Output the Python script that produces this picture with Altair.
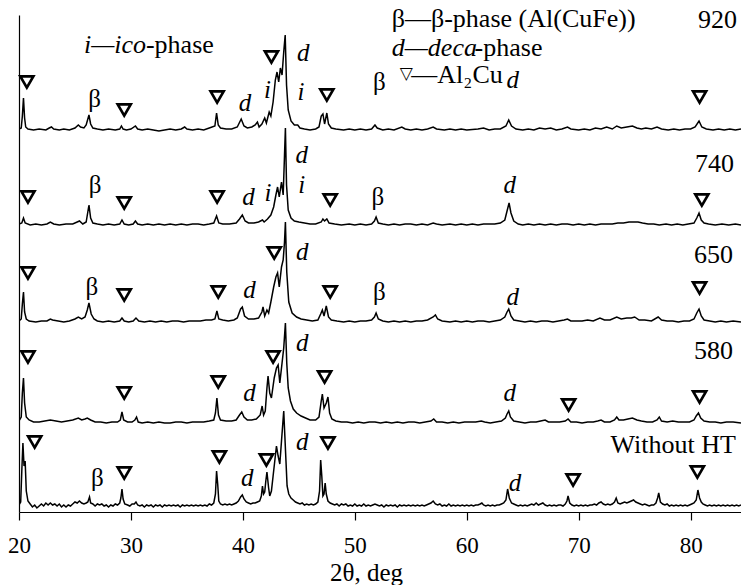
import altair as alt
import pandas as pd

# ---------------- data ----------------
series_names = ["920", "740", "650", "580", "Without HT"]
# vertical offset of each pattern (stacking)
baseline_offsets = [382, 287, 190, 89, 6]

trace_920 = [(20.0,1),(20.2,2),(20.3,14),(20.4,32),(20.5,12),(20.6,3),(20.8,1),(21.3,0),(21.8,1),(22.4,0),(22.7,2),(22.9,3),(23.1,1),(23.6,0),(24.0,1),(24.5,0),(25.0,2),(25.3,5),(25.5,3),(25.8,2),(26.0,5),(26.25,15),(26.4,6),(26.6,2),(27.0,1),(27.5,0),(28.0,1),(28.6,0),(29.0,1),(29.15,4),(29.3,1),(29.6,0),(30.0,1),(30.4,4),(30.6,1),(31.0,0),(31.5,1),(32.0,0),(32.5,-1),(33.0,0),(33.5,1),(34.0,0),(34.5,1),(34.8,3),(35.0,1),(35.5,0),(36.0,1),(36.5,0),(37.0,2),(37.5,4),(37.65,17),(37.8,5),(38.0,2),(38.5,1),(39.0,1),(39.5,3),(39.85,11),(40.1,4),(40.4,2),(40.8,3),(41.1,5),(41.3,8),(41.45,3),(41.7,6),(41.95,12),(42.1,7),(42.35,18),(42.5,14),(42.7,28),(42.9,50),(43.05,58),(43.2,48),(43.35,62),(43.5,55),(43.65,78),(43.78,95),(43.9,45),(44.05,20),(44.3,9),(44.6,5),(44.9,5),(45.1,2),(45.5,1),(46.0,0),(46.5,1),(46.8,3),(47.0,14),(47.15,16),(47.3,6),(47.5,17),(47.65,6),(47.9,2),(48.3,1),(49.0,0),(49.5,1),(50.0,0),(50.5,1),(51.0,0),(51.5,1),(51.8,5),(52.0,2),(52.5,0),(53.0,1),(53.5,0),(54.2,3),(54.5,1),(55.0,0),(55.5,1),(56.0,0),(56.5,1),(57.0,3),(57.3,1),(58.0,0),(58.5,1),(59.0,0),(59.5,1),(60.0,0),(61.0,1),(61.5,2),(62.0,0),(62.5,1),(63.0,1),(63.5,4),(63.75,10),(64.0,4),(64.4,1),(65.0,0),(65.5,1),(66.0,0),(66.5,2),(67.0,1),(67.5,2),(68.0,0),(68.5,1),(69.0,3),(69.3,1),(70.0,0),(70.5,1),(71.0,0),(71.5,2),(72.0,1),(72.5,3),(73.0,1),(73.4,4),(73.8,2),(74.3,3),(74.8,4),(75.2,2),(75.6,1),(76.0,2),(76.5,1),(77.0,3),(77.4,1),(78.0,0),(78.5,1),(79.0,0),(79.5,1),(80.0,1),(80.4,3),(80.75,9),(81.0,3),(81.4,1),(82.0,0),(82.5,1),(83.0,0),(83.5,1),(84.0,0),(84.5,1)]

trace_740 = [(20.0,1),(20.25,2),(20.4,7),(20.55,2),(21.0,0),(21.5,1),(22.0,0),(22.5,1),(22.8,3),(23.1,1),(23.6,0),(24.2,1),(24.8,1),(25.2,3),(25.4,4),(25.7,1),(26.0,3),(26.25,20),(26.4,7),(26.6,2),(27.0,1),(27.5,0),(28.0,1),(28.5,0),(29.0,1),(29.2,5),(29.4,1),(29.8,0),(30.2,1),(30.4,4),(30.6,1),(31.0,0),(31.5,1),(32.0,0),(32.5,1),(33.0,0),(33.5,1),(34.0,0),(34.5,1),(35.0,0),(35.5,1),(36.0,1),(36.5,0),(37.0,1),(37.4,2),(37.65,9),(37.85,2),(38.2,1),(38.8,1),(39.4,2),(39.7,6),(39.95,10),(40.2,4),(40.5,2),(41.0,2),(41.4,3),(41.75,5),(41.9,3),(42.2,6),(42.5,10),(42.75,18),(42.95,30),(43.1,38),(43.25,28),(43.45,43),(43.6,30),(43.72,70),(43.8,97),(43.9,40),(44.05,15),(44.3,7),(44.6,4),(45.0,3),(45.5,2),(46.0,1),(46.5,1),(47.0,3),(47.15,6),(47.3,4),(47.5,6),(47.7,2),(48.2,1),(48.8,0),(49.5,1),(50.0,0),(50.5,1),(51.0,0),(51.5,1),(51.75,4),(51.9,8),(52.1,2),(52.5,1),(53.0,0),(53.5,1),(54.0,0),(54.5,1),(55.0,1),(55.5,0),(56.0,1),(56.5,0),(57.0,2),(57.3,1),(57.8,0),(58.5,1),(59.0,0),(59.5,1),(60.0,0),(60.5,1),(61.0,0),(61.5,1),(62.0,1),(62.5,1),(63.0,2),(63.4,5),(63.6,14),(63.78,22),(63.95,12),(64.2,4),(64.6,1),(65.0,0),(65.5,1),(66.0,0),(66.5,1),(67.0,0),(67.5,1),(68.0,0),(68.5,1),(69.0,1),(69.5,0),(70.0,1),(70.5,0),(71.0,1),(71.5,0),(72.0,1),(72.5,1),(73.0,1),(73.5,2),(74.0,2),(74.5,3),(75.0,3),(75.3,3),(75.7,2),(76.2,1),(76.7,1),(77.2,0),(77.8,1),(78.3,0),(78.8,1),(79.3,0),(79.8,1),(80.3,2),(80.55,7),(80.75,12),(80.95,5),(81.2,2),(81.6,1),(82.2,0),(82.8,1),(83.4,0),(84.0,1),(84.5,0)]

trace_650 = [(20.0,1),(20.2,3),(20.3,18),(20.4,30),(20.5,10),(20.65,3),(20.9,1),(21.5,0),(22.0,1),(22.5,1),(22.8,3),(23.0,2),(23.5,1),(24.0,0),(24.5,1),(25.0,3),(25.3,5),(25.6,3),(25.9,5),(26.1,12),(26.25,19),(26.45,8),(26.7,3),(27.0,1),(27.5,0),(28.0,1),(28.5,0),(29.0,1),(29.2,4),(29.4,1),(29.8,0),(30.2,1),(30.45,4),(30.7,1),(31.2,0),(31.7,1),(32.2,0),(32.7,1),(33.2,0),(33.7,1),(34.2,1),(34.7,0),(35.2,1),(35.7,1),(36.2,1),(36.7,2),(37.2,2),(37.5,3),(37.68,11),(37.85,3),(38.2,2),(38.7,1),(39.2,2),(39.5,4),(39.8,13),(39.95,15),(40.15,6),(40.5,3),(41.0,3),(41.4,4),(41.7,10),(41.8,15),(41.95,6),(42.15,12),(42.3,9),(42.5,20),(42.75,35),(42.95,45),(43.1,49),(43.25,35),(43.45,55),(43.6,62),(43.72,80),(43.8,100),(43.92,50),(44.1,20),(44.4,9),(44.8,5),(45.2,3),(45.7,2),(46.2,1),(46.7,2),(46.95,8),(47.1,12),(47.25,6),(47.45,16),(47.65,5),(47.9,2),(48.4,1),(49.0,0),(49.5,1),(50.0,0),(50.5,1),(51.0,1),(51.5,2),(51.75,5),(51.9,9),(52.1,3),(52.5,1),(53.0,0),(53.5,1),(54.0,0),(54.5,1),(55.0,0),(55.5,1),(56.0,1),(56.5,2),(57.0,5),(57.2,7),(57.4,3),(57.8,1),(58.5,0),(59.0,1),(59.5,0),(60.0,1),(60.5,0),(61.0,1),(61.5,1),(62.0,0),(62.5,1),(63.0,2),(63.4,5),(63.6,10),(63.75,13),(63.95,6),(64.2,2),(64.7,1),(65.2,0),(65.7,1),(66.2,0),(66.7,1),(67.2,1),(67.7,0),(68.2,1),(68.7,2),(69.0,3),(69.3,1),(69.8,1),(70.3,1),(70.8,2),(71.3,1),(71.9,4),(72.3,2),(72.8,2),(73.4,5),(73.8,3),(74.3,4),(74.7,4),(75.0,5),(75.4,2),(75.9,2),(76.5,1),(77.1,5),(77.4,2),(77.9,1),(78.4,1),(78.9,0),(79.4,1),(79.9,1),(80.3,3),(80.55,9),(80.75,13),(80.95,6),(81.2,2),(81.7,1),(82.2,0),(82.7,1),(83.2,0),(83.8,1),(84.5,0)]

trace_580 = [(20.0,2),(20.2,6),(20.3,30),(20.4,45),(20.5,20),(20.65,6),(20.9,3),(21.3,1),(21.8,1),(22.3,2),(22.8,3),(23.3,2),(23.8,1),(24.3,2),(24.8,3),(25.3,5),(25.6,3),(25.9,4),(26.1,5),(26.4,3),(26.8,1),(27.3,1),(27.8,0),(28.3,1),(28.8,1),(29.05,3),(29.2,11),(29.35,3),(29.7,1),(30.1,1),(30.35,3),(30.5,6),(30.65,1),(31.0,0),(31.5,1),(32.0,0),(32.5,1),(33.0,0),(33.5,0),(34.0,1),(34.5,1),(35.0,0),(35.5,1),(36.0,1),(36.5,1),(37.0,2),(37.4,3),(37.55,10),(37.68,25),(37.82,8),(38.0,3),(38.5,2),(39.0,2),(39.4,3),(39.7,8),(39.9,11),(40.1,6),(40.4,3),(40.8,3),(41.2,4),(41.55,8),(41.72,17),(41.85,8),(42.0,12),(42.15,35),(42.25,47),(42.4,30),(42.55,25),(42.8,45),(43.0,55),(43.15,58),(43.3,40),(43.5,60),(43.65,75),(43.8,100),(43.92,60),(44.05,35),(44.25,22),(44.5,14),(44.8,10),(45.2,7),(45.6,5),(46.0,3),(46.5,3),(46.8,6),(47.0,22),(47.1,29),(47.25,15),(47.45,20),(47.6,26),(47.75,10),(47.95,4),(48.3,2),(48.8,1),(49.3,1),(49.8,0),(50.3,1),(50.8,0),(51.3,1),(51.8,1),(52.3,0),(52.8,1),(53.3,0),(53.8,1),(54.3,0),(54.8,1),(55.3,1),(55.8,0),(56.3,1),(56.8,2),(57.05,4),(57.3,1),(57.8,1),(58.3,0),(58.8,1),(59.3,0),(59.8,1),(60.3,1),(60.8,1),(61.3,2),(61.6,1),(62.1,0),(62.6,1),(63.1,2),(63.45,5),(63.6,9),(63.75,12),(63.9,6),(64.2,2),(64.7,1),(65.2,0),(65.7,1),(66.2,1),(66.6,2),(67.0,3),(67.3,1),(67.8,1),(68.3,1),(68.8,2),(69.05,4),(69.3,1),(69.8,1),(70.3,0),(70.8,1),(71.3,1),(71.7,2),(72.0,3),(72.3,1),(72.8,1),(73.2,3),(73.4,6),(73.6,3),(74.0,3),(74.4,4),(74.8,5),(75.2,3),(75.6,2),(76.1,1),(76.6,1),(77.0,3),(77.2,6),(77.4,2),(77.9,1),(78.4,2),(78.9,1),(79.4,1),(79.9,1),(80.3,3),(80.5,7),(80.7,10),(80.9,5),(81.2,2),(81.7,1),(82.2,1),(82.7,0),(83.2,1),(83.8,1),(84.5,0)]

trace_noht = [(20.0,1),(20.15,4),(20.25,35),(20.35,63),(20.45,40),(20.55,45),(20.65,15),(20.8,5),(21.0,2),(21.2,-1),(21.4,1),(21.6,-2),(21.8,0),(22.0,2),(22.2,0),(22.4,3),(22.6,1),(22.8,3),(23.0,1),(23.2,2),(23.4,0),(23.6,2),(23.8,-1),(24.0,1),(24.2,-1),(24.4,1),(24.6,0),(24.8,2),(25.0,4),(25.2,3),(25.4,5),(25.6,3),(25.8,2),(26.0,3),(26.15,4),(26.3,9),(26.4,3),(26.6,2),(26.8,0),(27.0,2),(27.2,1),(27.4,2),(27.6,0),(27.8,1),(28.0,-1),(28.2,1),(28.4,0),(28.6,2),(28.8,1),(29.0,3),(29.1,8),(29.2,17),(29.3,7),(29.45,2),(29.7,1),(29.9,0),(30.1,2),(30.3,2),(30.45,4),(30.6,1),(30.8,0),(31.0,1),(31.2,-1),(31.4,1),(31.6,0),(31.8,1),(32.0,-1),(32.2,1),(32.4,0),(32.6,1),(32.8,-1),(33.0,1),(33.2,0),(33.4,1),(33.6,0),(33.8,1),(34.0,0),(34.2,1),(34.4,-1),(34.6,1),(34.8,0),(35.0,1),(35.2,0),(35.4,1),(35.6,0),(35.8,1),(36.0,0),(36.2,1),(36.4,0),(36.6,1),(36.8,0),(37.0,2),(37.2,1),(37.4,3),(37.55,12),(37.65,35),(37.75,22),(37.85,5),(38.0,2),(38.2,1),(38.4,2),(38.6,1),(38.8,2),(39.0,1),(39.2,2),(39.4,3),(39.6,5),(39.8,9),(39.95,11),(40.1,7),(40.3,4),(40.5,3),(40.7,2),(40.9,3),(41.1,3),(41.3,4),(41.5,5),(41.65,10),(41.75,20),(41.85,12),(41.95,14),(42.05,25),(42.15,34),(42.3,18),(42.4,10),(42.55,15),(42.7,30),(42.85,45),(43.0,60),(43.15,50),(43.3,42),(43.45,65),(43.55,80),(43.65,95),(43.75,70),(43.85,45),(43.95,20),(44.1,12),(44.3,8),(44.5,6),(44.7,4),(44.9,3),(45.1,2),(45.3,3),(45.5,1),(45.7,2),(45.9,1),(46.1,2),(46.3,1),(46.5,2),(46.7,4),(46.85,15),(46.95,46),(47.05,30),(47.15,10),(47.25,12),(47.35,23),(47.45,12),(47.6,5),(47.8,3),(48.0,2),(48.2,1),(48.4,2),(48.6,0),(48.8,2),(49.0,1),(49.2,2),(49.4,0),(49.6,1),(49.8,0),(50.0,2),(50.2,0),(50.4,1),(50.6,0),(50.8,2),(51.0,0),(51.2,1),(51.4,0),(51.6,1),(51.8,2),(52.0,1),(52.2,0),(52.4,1),(52.6,-1),(52.8,1),(53.0,0),(53.2,1),(53.4,0),(53.6,1),(53.8,-1),(54.0,1),(54.2,0),(54.4,1),(54.6,0),(54.8,1),(55.0,0),(55.2,1),(55.4,0),(55.6,1),(55.8,0),(56.0,1),(56.2,0),(56.4,1),(56.6,2),(56.8,3),(57.0,5),(57.2,2),(57.4,1),(57.6,2),(57.8,0),(58.0,1),(58.2,0),(58.4,2),(58.6,0),(58.8,1),(59.0,0),(59.2,1),(59.4,0),(59.6,1),(59.8,0),(60.0,1),(60.2,0),(60.4,1),(60.6,0),(60.8,1),(61.0,1),(61.2,2),(61.35,3),(61.5,1),(61.7,0),(61.9,1),(62.1,0),(62.3,1),(62.5,0),(62.7,1),(62.9,1),(63.1,2),(63.3,3),(63.5,6),(63.65,17),(63.8,8),(64.0,3),(64.2,2),(64.4,1),(64.6,0),(64.8,1),(65.0,0),(65.2,1),(65.4,0),(65.6,1),(65.8,2),(66.0,1),(66.2,3),(66.4,1),(66.6,2),(66.8,3),(67.0,1),(67.2,0),(67.4,1),(67.6,0),(67.8,1),(68.0,0),(68.2,1),(68.4,1),(68.6,0),(68.8,2),(68.95,5),(69.05,10),(69.2,3),(69.4,1),(69.6,0),(69.8,1),(70.0,0),(70.2,1),(70.4,0),(70.6,1),(70.8,0),(71.0,1),(71.2,1),(71.4,2),(71.6,1),(71.8,3),(72.0,4),(72.2,2),(72.4,1),(72.6,2),(72.8,1),(73.0,2),(73.2,4),(73.35,8),(73.5,3),(73.7,2),(73.9,3),(74.1,4),(74.3,3),(74.5,4),(74.7,5),(74.9,6),(75.1,4),(75.3,3),(75.5,2),(75.7,1),(75.9,2),(76.1,1),(76.3,0),(76.5,1),(76.7,1),(76.9,3),(77.05,8),(77.15,13),(77.3,4),(77.5,2),(77.7,1),(77.9,2),(78.1,0),(78.3,1),(78.5,0),(78.7,1),(78.9,0),(79.1,1),(79.3,0),(79.5,1),(79.7,0),(79.9,1),(80.1,2),(80.3,3),(80.5,6),(80.65,16),(80.8,8),(80.95,4),(81.1,2),(81.3,1),(81.5,0),(81.7,1),(81.9,0),(82.1,1),(82.3,0),(82.5,1),(82.7,0),(82.9,1),(83.1,0),(83.3,1),(83.5,0),(83.7,1),(83.9,0),(84.1,1),(84.3,0),(84.5,1)]

traces = [trace_920, trace_740, trace_650, trace_580, trace_noht]

# Al2Cu markers (2theta, height)
tri_x = [20.7, 29.4, 37.7, 42.55, 47.5, 80.8,
         20.8, 29.4, 37.7, 47.8, 81.0,
         20.8, 29.4, 37.8, 42.8, 47.8, 80.8,
         20.8, 29.4, 37.8, 42.7, 47.3, 69.1, 80.8,
         21.4, 29.4, 37.9, 42.1, 47.6, 69.5, 80.6]
tri_y = [430, 402, 415, 455, 417, 415,
         315, 309, 315, 312, 312,
         239, 217, 220, 259, 220, 224,
         155, 119, 130, 155, 135, 107, 115,
         70, 39, 55, 52, 69, 32, 40]

# italic phase labels (d, i)
it_lab = ["d", "d", "d", "i", "i",
          "d", "d", "d", "i", "i",
          "d", "d", "d",
          "d", "d", "d",
          "d", "d", "d"]
it_x = [40.2, 45.4, 64.1, 42.2, 45.2,
        40.5, 45.25, 63.85, 42.25, 45.25,
        40.6, 45.3, 64.1,
        40.6, 45.3, 63.85,
        40.4, 45.3, 64.3]
it_y = [409, 459, 432, 422, 420,
        315, 357, 327, 319, 327,
        222, 260, 215,
        119, 169, 119,
        34, 70, 29]

# beta labels
beta_x = [26.75, 52.2, 26.8, 52.05, 26.5, 52.2, 27.0]
beta_y = [413, 430, 327, 315, 225, 220, 34]

# sample labels
sample_lab = ["920", "740", "650", "580", "Without HT"]
sample_x = [82.4, 82.14, 82.05, 82.05, 78.44]
sample_y = [492, 348, 257, 161, 67]

# legend texts
leg_reg_txt = ["β—β-phase (Al(CuFe))", "-phase", "—Al₂Cu", "-phase"]
leg_reg_x = [53.3, 60.7, 55.05, 31.34]
leg_reg_y = [485, 456, 429, 459]
leg_it_txt = ["d—deca", "i—ico"]
leg_it_x = [53.3, 25.8]
leg_it_y = [456, 459]
leg_sym_txt = ["▽"]
leg_sym_x = [54.6]
leg_sym_y = [438]

x_ticks = [20, 30, 40, 50, 60, 70, 80]

# ---------------- build ----------------
FONT = "Liberation Serif, Times New Roman, DejaVu Serif, serif"
rows = []
for name, off, tr in zip(series_names, baseline_offsets, traces):
    for k, (x, h) in enumerate(tr):
        rows.append({"series": name, "k": k, "x": x, "y": h + off})
lines_df = pd.DataFrame(rows)

xs = alt.Scale(domain=[20, 84.5], nice=False, zero=False)
ys = alt.Scale(domain=[0, 497], nice=False, zero=False)

x_axis = alt.Axis(
    values=x_ticks, title="2θ, deg", grid=False, tickSize=8, tickColor="black",
    domainColor="black", domainWidth=1.2, tickWidth=1.2,
    labelFont=FONT, labelFontSize=23, labelColor="black", labelFlush=False,
    labelBaseline="alphabetic", labelPadding=32,
    titleFont=FONT, titleFontSize=25, titleFontWeight="normal", titleColor="black",
    titleX=347, titleY=68, titleBaseline="alphabetic")
y_axis = alt.Axis(labels=False, ticks=False, title=None, grid=False,
                  domainColor="black", domainWidth=1.2)

X = alt.X("x:Q", scale=xs, axis=x_axis)
Y = alt.Y("y:Q", scale=ys, axis=y_axis)

lines = alt.Chart(lines_df).mark_line(color="black", clip=True).encode(
    x=X, y=Y,
    detail="series:N",
    order="k:Q",
    strokeWidth=alt.StrokeWidth("series:N", scale=alt.Scale(
        domain=series_names, range=[1.5, 1.5, 1.5, 1.5, 2.1]), legend=None),
)

tri_df = pd.DataFrame({"x": tri_x, "y": tri_y})
tris = alt.Chart(tri_df).mark_point(
    shape="triangle-down", filled=False, size=170, strokeWidth=2.7, color="black", opacity=1
).encode(x=X, y=Y)

def text_layer(xv, yv, tv, size, italic=False, align="center", baseline="middle"):
    df = pd.DataFrame({"x": xv, "y": yv, "t": tv})
    kw = dict(font=FONT, fontSize=size, color="black", align=align, baseline=baseline)
    if italic:
        kw["fontStyle"] = "italic"
    return alt.Chart(df).mark_text(**kw).encode(x=X, y=Y, text="t:N")

it_layer = text_layer(it_x, it_y, it_lab, 25, italic=True)
beta_layer = text_layer(beta_x, beta_y, ["β"] * len(beta_x), 25)
sample_layer = text_layer(sample_x, sample_y, sample_lab, 26)
leg_reg = text_layer(leg_reg_x, leg_reg_y, leg_reg_txt, 26, align="left", baseline="alphabetic")
leg_it = text_layer(leg_it_x, leg_it_y, leg_it_txt, 26, italic=True, align="left", baseline="alphabetic")
leg_sym = text_layer(leg_sym_x, leg_sym_y, leg_sym_txt, 17)

chart = alt.layer(lines, tris, it_layer, beta_layer, sample_layer, leg_reg, leg_it, leg_sym).properties(
    width=722, height=497,
    autosize=alt.AutoSizeParams(type="none"),
    padding={"left": 19, "top": 15, "right": 0, "bottom": 73},
    background="white",
).configure_view(strokeWidth=0)

chart.save("out.html", embed_options={"renderer": "svg", "actions": False})
